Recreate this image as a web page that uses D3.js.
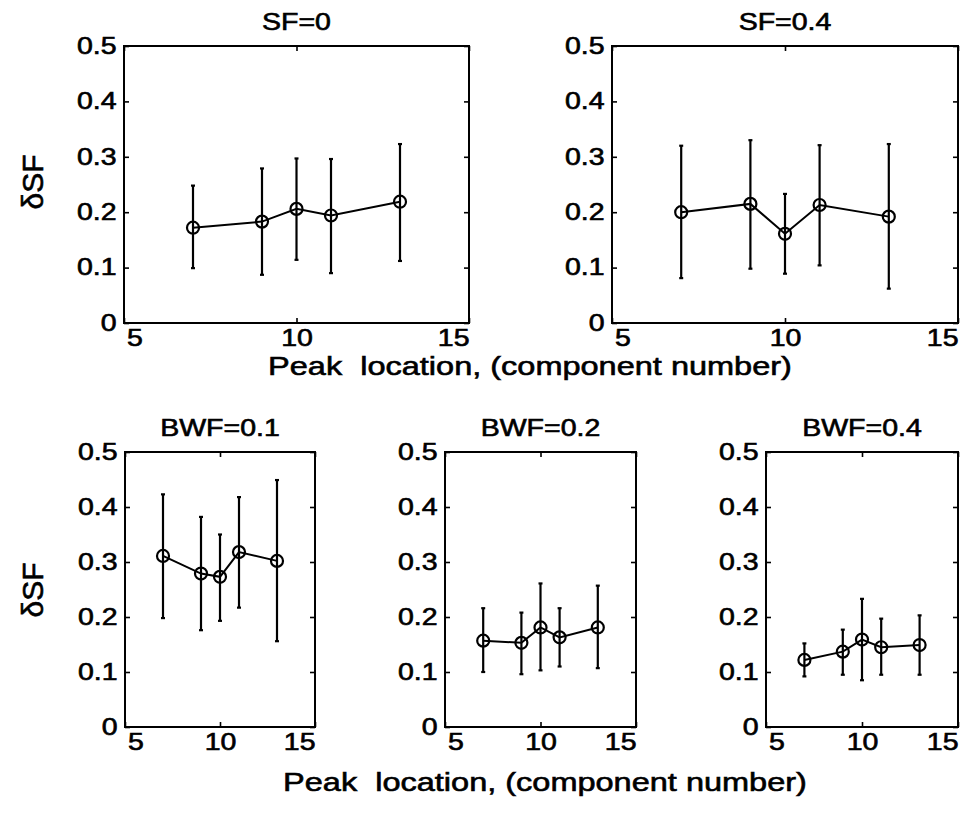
<!DOCTYPE html>
<html>
<head>
<meta charset="utf-8">
<script src="https://cdn.jsdelivr.net/npm/d3@7/dist/d3.min.js"></script>
<style>
  html, body { margin: 0; padding: 0; background: #fff; }
  svg { display: block; }
  text { font-family: "Liberation Sans", Arial, Helvetica, sans-serif; fill: #000; stroke: #000; stroke-width: 0.6px; }
</style>
</head>
<body>
<svg id="chart" width="973" height="815"></svg>
<script>
// ---------------- data ----------------
const peakLocation = [7, 9, 10, 11, 13];

const titles = ["SF=0", "SF=0.4", "BWF=0.1", "BWF=0.2", "BWF=0.4"];

const sf0Mean  = [0.172, 0.183, 0.206, 0.194, 0.219];
const sf0Upper = [0.248, 0.279, 0.297, 0.296, 0.323];
const sf0Lower = [0.099, 0.087, 0.114, 0.090, 0.112];

const sf04Mean  = [0.200, 0.215, 0.161, 0.213, 0.192];
const sf04Upper = [0.320, 0.330, 0.233, 0.321, 0.323];
const sf04Lower = [0.081, 0.098, 0.089, 0.104, 0.062];

const bwf01Mean  = [0.311, 0.279, 0.273, 0.318, 0.302];
const bwf01Upper = [0.423, 0.382, 0.350, 0.418, 0.449];
const bwf01Lower = [0.198, 0.176, 0.193, 0.217, 0.156];

const bwf02Mean  = [0.157, 0.153, 0.181, 0.163, 0.181];
const bwf02Upper = [0.216, 0.208, 0.261, 0.216, 0.257];
const bwf02Lower = [0.100, 0.096, 0.103, 0.110, 0.107];

const bwf04Mean  = [0.122, 0.137, 0.159, 0.145, 0.149];
const bwf04Upper = [0.152, 0.177, 0.233, 0.197, 0.203];
const bwf04Lower = [0.092, 0.095, 0.085, 0.095, 0.095];

const xTicks = [5, 10, 15];
const yTicks = [0, 0.1, 0.2, 0.3, 0.4, 0.5];
const xLabelText = "Peak  location, (component number)";
const yLabelText = "\u03B4SF";

// ---------------- layout ----------------
const series = [
  { mean: sf0Mean,   upper: sf0Upper,   lower: sf0Lower },
  { mean: sf04Mean,  upper: sf04Upper,  lower: sf04Lower },
  { mean: bwf01Mean, upper: bwf01Upper, lower: bwf01Lower },
  { mean: bwf02Mean, upper: bwf02Upper, lower: bwf02Lower },
  { mean: bwf04Mean, upper: bwf04Upper, lower: bwf04Lower }
];
const boxes = [
  { left: 124, right: 469, top: 46,  bottom: 323 },
  { left: 612, right: 958, top: 46,  bottom: 323 },
  { left: 125, right: 315, top: 452, bottom: 727 },
  { left: 445, right: 636, top: 452, bottom: 727 },
  { left: 766, right: 958, top: 452, bottom: 727 }
];

const FS = 23;          // base font size
const SX = 1.24;        // horizontal stretch of the scanned text
const svg = d3.select("#chart");

series.forEach((s, i) => {
  const b = boxes[i];
  const x = d3.scaleLinear().domain([5, 15]).range([b.left, b.right]);
  const y = d3.scaleLinear().domain([0, 0.5]).range([b.bottom, b.top]);
  const g = svg.append("g");

  const gl = g.append("g").attr("transform", `translate(${b.left},0)`)
    .call(d3.axisLeft(y).tickValues(yTicks).tickSize(-5).tickPadding(6)
      .tickFormat(d => String(d)));
  const gb = g.append("g").attr("transform", `translate(0,${b.bottom})`)
    .call(d3.axisBottom(x).tickValues(xTicks).tickSize(-5).tickPadding(2)
      .tickFormat(d => String(d)));
  const gr = g.append("g").attr("transform", `translate(${b.right},0)`)
    .call(d3.axisRight(y).tickValues(yTicks).tickSize(-5).tickFormat(""));
  const gt = g.append("g").attr("transform", `translate(0,${b.top})`)
    .call(d3.axisTop(x).tickValues(xTicks).tickSize(-5).tickFormat(""));

  [gl, gb, gr, gt].forEach(a => {
    a.select(".domain").remove();
    a.selectAll(".tick line").attr("stroke", "#000").attr("stroke-width", 1.6);
  });
  gl.selectAll(".tick text")
    .attr("font-size", FS)
    .attr("transform", `scale(${SX},1)`);
  gb.selectAll(".tick text")
    .attr("font-size", FS).attr("dy", "0.9em")
    .attr("transform", `scale(${SX},1)`)
    .attr("text-anchor", (d, k) => k === 0 ? "start" : (k === xTicks.length - 1 ? "end" : "middle"))
    .attr("x", (d, k) => k === 0 ? 2 : 0);

  g.append("rect")
    .attr("x", b.left).attr("y", b.top)
    .attr("width", b.right - b.left).attr("height", b.bottom - b.top)
    .attr("fill", "none").attr("stroke", "#000").attr("stroke-width", 2);

  g.append("text")
    .attr("transform", `translate(${(b.left + b.right) / 2},${b.top - 16}) scale(${SX},1)`)
    .attr("text-anchor", "middle").attr("font-size", FS)
    .text(titles[i]);

  const pts = peakLocation.map((p, k) => ({ p, m: s.mean[k], u: s.upper[k], l: s.lower[k] }));

  const eb = g.append("g").attr("stroke", "#000").attr("stroke-width", 2.2);
  eb.selectAll("line.v").data(pts).join("line").attr("class", "v")
    .attr("x1", d => x(d.p)).attr("x2", d => x(d.p))
    .attr("y1", d => y(d.u)).attr("y2", d => y(d.l));
  eb.selectAll("line.cu").data(pts).join("line").attr("class", "cu")
    .attr("x1", d => x(d.p) - 2).attr("x2", d => x(d.p) + 2)
    .attr("y1", d => y(d.u)).attr("y2", d => y(d.u));
  eb.selectAll("line.cl").data(pts).join("line").attr("class", "cl")
    .attr("x1", d => x(d.p) - 2).attr("x2", d => x(d.p) + 2)
    .attr("y1", d => y(d.l)).attr("y2", d => y(d.l));

  g.append("path").datum(pts)
    .attr("fill", "none").attr("stroke", "#000").attr("stroke-width", 2)
    .attr("d", d3.line().x(d => x(d.p)).y(d => y(d.m)));

  g.selectAll("circle.m").data(pts).join("circle").attr("class", "m")
    .attr("cx", d => x(d.p)).attr("cy", d => y(d.m)).attr("r", 6)
    .attr("fill", "none").attr("stroke", "#000").attr("stroke-width", 2.2);
});

[{ cx: 530, y: 375 }, { cx: 545, y: 791 }].forEach(p => {
  svg.append("text")
    .attr("transform", `translate(${p.cx},${p.y}) scale(1.25,1)`)
    .attr("text-anchor", "middle").attr("font-size", 26)
    .attr("xml:space", "preserve").style("white-space", "pre")
    .text(xLabelText);
});
[{ x: 43, cy: 182 }, { x: 43, cy: 590 }].forEach(p => {
  svg.append("text")
    .attr("transform", `translate(${p.x},${p.cy}) rotate(-90)`)
    .attr("text-anchor", "middle").attr("font-size", 30)
    .text(yLabelText);
});
</script>
</body>
</html>
